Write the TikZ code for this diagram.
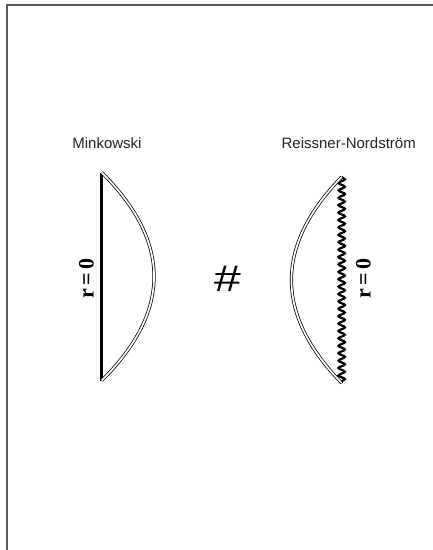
\documentclass[tikz,border=0pt]{standalone}
\usepackage{fontspec}
\setmainfont{Liberation Sans}
\newfontfamily\rfont{Liberation Serif}
\usetikzlibrary{decorations.pathmorphing}
\begin{document}
\begin{tikzpicture}[x=1pt,y=-1pt,
  frameline/.style={line width=1.8pt,draw=black!65},
  horizon/.style={double,double distance=1.7pt,line width=0.75pt,draw=black},
  regular/.style={line width=2.7pt,draw=black},
  singular/.style={line width=2.2pt,draw=black,decorate,
    decoration={snake,segment length=7.4pt,amplitude=3.2pt}},
  title/.style={font=\fontsize{15}{18}\selectfont,text=black!85,anchor=base,inner sep=0pt},
  rlabel/.style={font=\rfont\bfseries\fontsize{22}{24}\selectfont,rotate=90,inner sep=0pt,text=black},
  hash/.style={font=\fontsize{37}{40}\selectfont,inner sep=0pt,xscale=1.3,text=black}]
\useasboundingbox (0,0) rectangle (432,550);
\fill[white] (-2,-2) rectangle (434,552);
% frame
\coordinate (fbl) at (7,552);
\coordinate (ftl) at (7,5);
\coordinate (ftr) at (434,5);
\draw[frameline] (fbl) -- (ftl) -- (ftr);
% Minkowski
\coordinate (mt) at (101.7,172.5);
\coordinate (mb) at (101.7,380.5);
\draw[regular] (mt) -- (mb);
\draw[horizon] (mt) .. controls (171.5,241.8) and (171.5,311.2) .. (mb);
\node[title] (mtitle) at (107,148) {Minkowski};
\node[rlabel] (mr) at (86.5,278.5) {r\,=\,0};
% hash
\node[hash] (hs) at (227.5,278.5) {\#};
% Reissner-Nordstrom
\coordinate (rt) at (341.7,177);
\coordinate (rb) at (341.7,383);
\draw[singular] (rt) -- (rb);
\draw[horizon] (rt) .. controls (274.7,245.7) and (274.7,314.3) .. (rb);
\node[title] (rtitle) at (348.7,148) {Reissner-Nordström};
\node[rlabel] (rr) at (363.5,278.5) {r\,=\,0};
\end{tikzpicture}
\end{document}
